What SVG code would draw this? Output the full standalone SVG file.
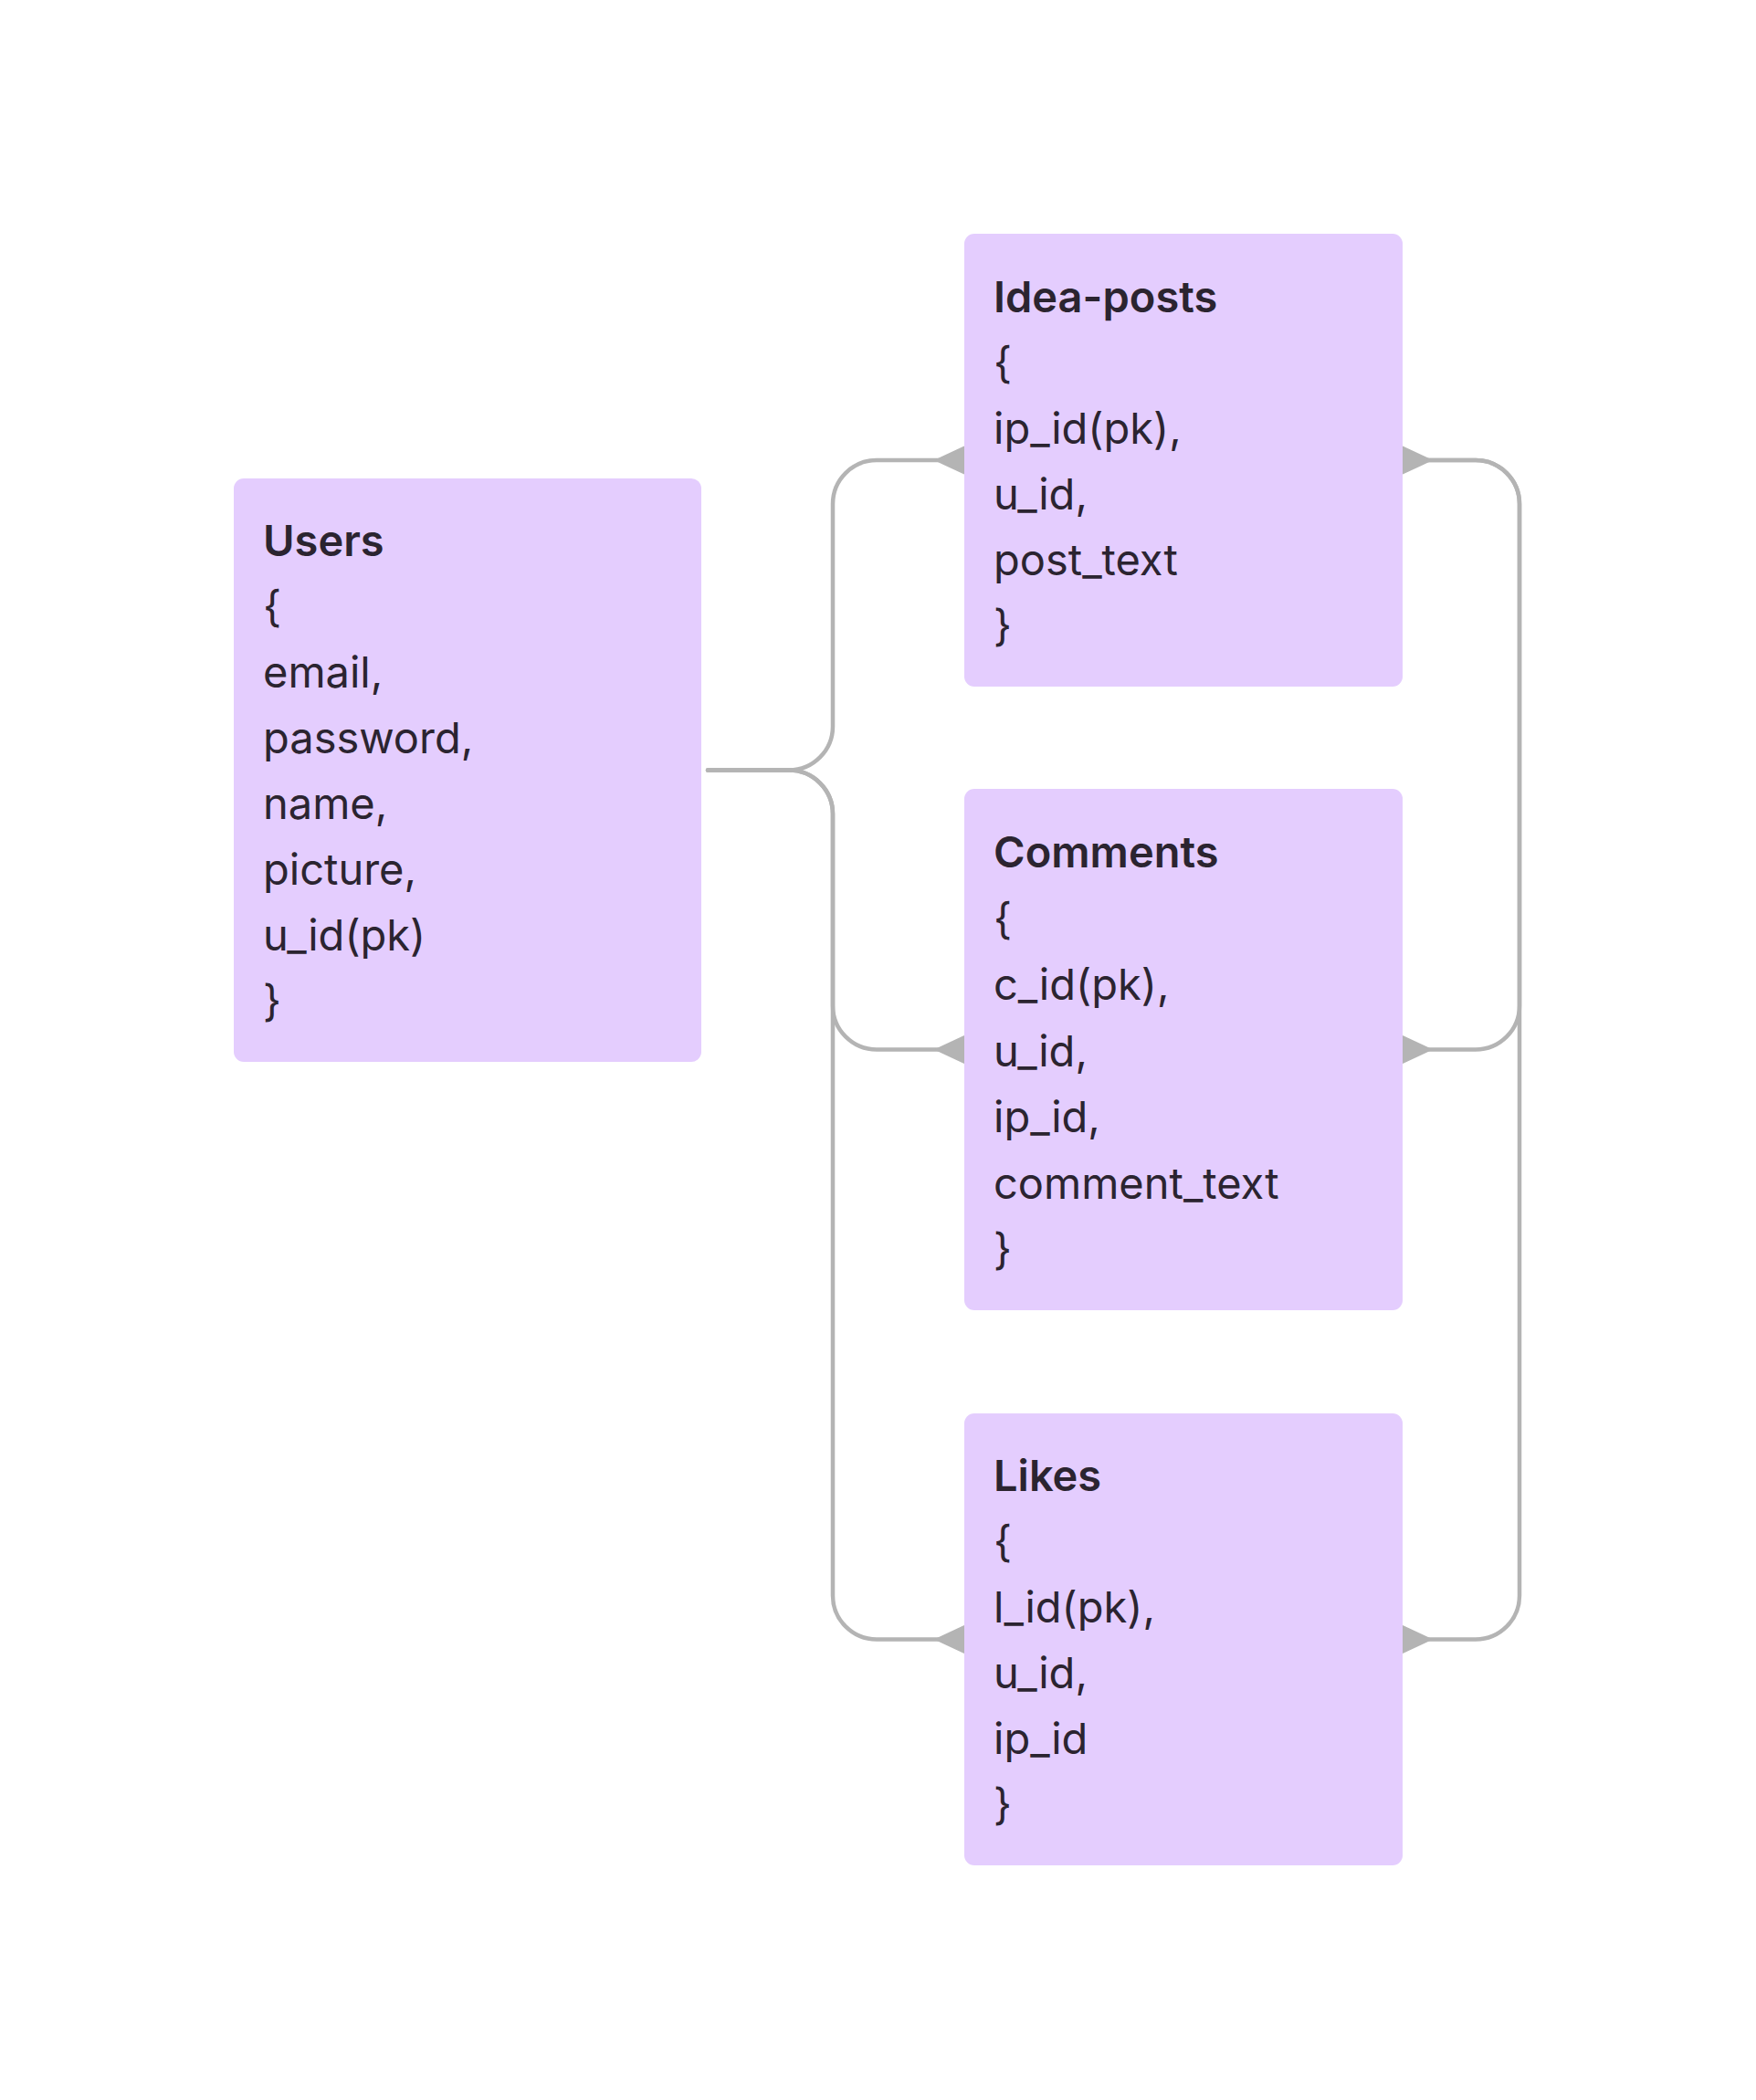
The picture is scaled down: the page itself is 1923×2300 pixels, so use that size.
<svg xmlns="http://www.w3.org/2000/svg" width="1923" height="2300" viewBox="0 0 1923 2300">
<style>
.box{fill:#e4cdfe;}
.t{font-family:Inter,"Noto Sans","Liberation Sans",sans-serif;font-size:47px;fill:#2b2430;}
.h{font-weight:600;}
.c{fill:none;stroke:#b4b4b4;stroke-width:4.5;stroke-linecap:round;stroke-linejoin:round;}
.a{fill:#b4b4b4;stroke:#b4b4b4;stroke-width:3;stroke-linejoin:round;}
</style>
<rect width="1923" height="2300" fill="#ffffff"/>
<g id="connectors">
<path class="c" d="M775,843.5 H864 A48,48 0 0 0 912,795.5 V552 A48,48 0 0 1 960,504 H1030"/>
<path class="c" d="M775,843.5 H864 A48,48 0 0 1 912,891.5 V1101.5 A48,48 0 0 0 960,1149.5 H1030"/>
<path class="c" d="M775,843.5 H864 A48,48 0 0 1 912,891.5 V1747.5 A48,48 0 0 0 960,1795.5 H1030"/>
<path class="c" d="M1562,504 H1616 A48,48 0 0 1 1664,552 V1101.5 A48,48 0 0 1 1616,1149.5 H1562"/>
<path class="c" d="M1562,504 H1616 A48,48 0 0 1 1664,552 V1747.5 A48,48 0 0 1 1616,1795.5 H1562"/>
<polygon class="a" points="1026,504 1056,490 1056,518"/>
<polygon class="a" points="1026,1149.5 1056,1135.5 1056,1163.5"/>
<polygon class="a" points="1026,1795.5 1056,1781.5 1056,1809.5"/>
<polygon class="a" points="1566,504 1536,490 1536,518"/>
<polygon class="a" points="1566,1149.5 1536,1135.5 1536,1163.5"/>
<polygon class="a" points="1566,1795.5 1536,1781.5 1536,1809.5"/>
</g>
<g id="users">
<rect class="box" x="256" y="524" width="512" height="639" rx="11"/>
<text class="t h" x="288" y="609">Users</text>
<text class="t" x="288" y="681">{</text>
<text class="t" x="288" y="753">email,</text>
<text class="t" x="288" y="825">password,</text>
<text class="t" x="288" y="897">name,</text>
<text class="t" x="288" y="969">picture,</text>
<text class="t" x="288" y="1041">u_id(pk)</text>
<text class="t" x="288" y="1113">}</text>
</g>
<g id="idea-posts">
<rect class="box" x="1056" y="256" width="480" height="496" rx="11"/>
<text class="t h" x="1088" y="342">Idea-posts</text>
<text class="t" x="1088" y="414">{</text>
<text class="t" x="1088" y="486">ip_id(pk),</text>
<text class="t" x="1088" y="558">u_id,</text>
<text class="t" x="1088" y="630">post_text</text>
<text class="t" x="1088" y="702">}</text>
</g>
<g id="comments">
<rect class="box" x="1056" y="864" width="480" height="571" rx="11"/>
<text class="t h" x="1088" y="950">Comments</text>
<text class="t" x="1088" y="1022.5">{</text>
<text class="t" x="1088" y="1095">c_id(pk),</text>
<text class="t" x="1088" y="1167.5">u_id,</text>
<text class="t" x="1088" y="1240">ip_id,</text>
<text class="t" x="1088" y="1312.5">comment_text</text>
<text class="t" x="1088" y="1385">}</text>
</g>
<g id="likes">
<rect class="box" x="1056" y="1548" width="480" height="495" rx="11"/>
<text class="t h" x="1088" y="1633">Likes</text>
<text class="t" x="1088" y="1705">{</text>
<text class="t" x="1088" y="1777">l_id(pk),</text>
<text class="t" x="1088" y="1849">u_id,</text>
<text class="t" x="1088" y="1921">ip_id</text>
<text class="t" x="1088" y="1993">}</text>
</g>
</svg>
